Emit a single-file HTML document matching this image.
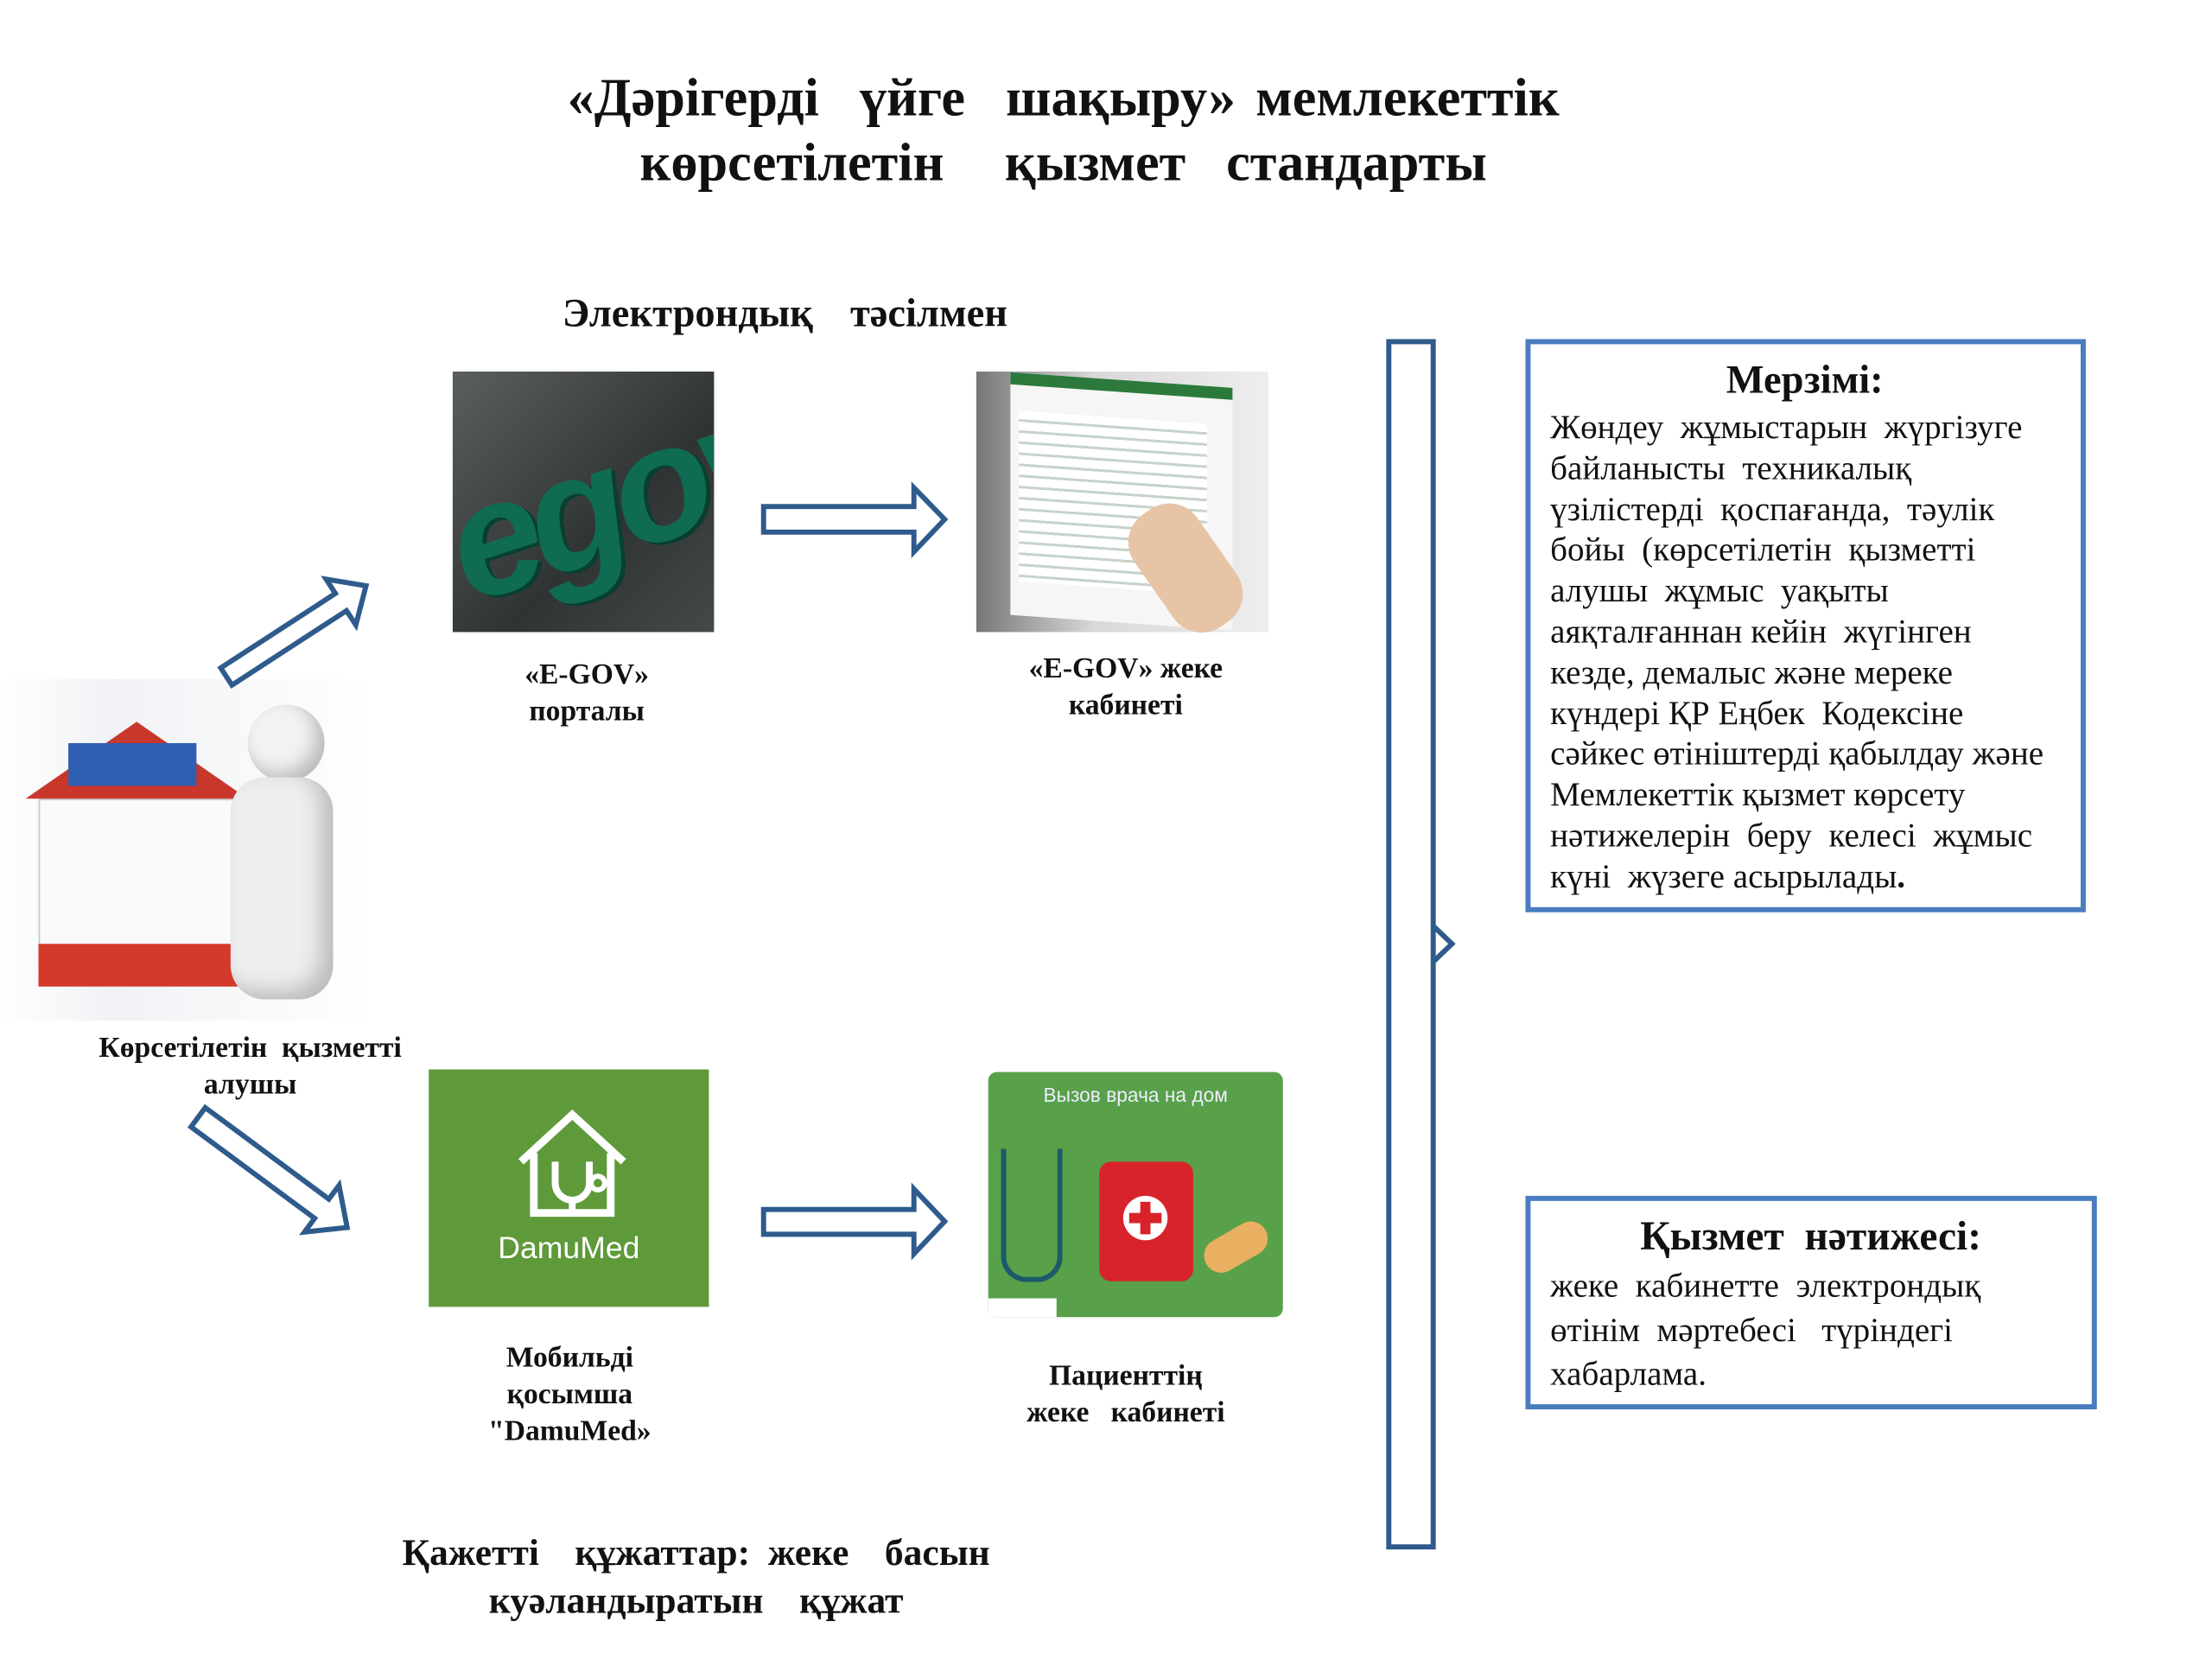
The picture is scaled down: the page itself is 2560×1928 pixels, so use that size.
<!DOCTYPE html>
<html><head><meta charset="utf-8"><style>
body{margin:0;width:2560px;height:1920px;background:#fff;position:relative;overflow:hidden;font-family:"Liberation Serif",serif;color:#111}
#w{position:absolute;left:0;top:0;width:2600px;height:1950px;transform:scale(0.9885);transform-origin:0 0}
.a{position:absolute}
.c{position:absolute;text-align:center;font-weight:bold;white-space:nowrap;transform:translateX(-50%)}
</style></head><body><div id="w">
<div class="c" style="left:1245px;top:76px;font-size:63px;line-height:76px;word-spacing:8px">«Дәрігерді &nbsp;үйге &nbsp;шақыру» мемлекеттік<br>көрсетілетін &nbsp; қызмет &nbsp;стандарты</div>
<div class="c" style="left:919px;top:340px;font-size:47px;word-spacing:10px">Электрондық &nbsp;тәсілмен</div>

<div class="a" style="left:530px;top:435px;width:306px;height:305px;background:linear-gradient(135deg,#5a5f5e,#2f3433 60%,#444a49);overflow:hidden">
<div class="a" style="left:-10px;top:40px;font:italic bold 190px 'Liberation Sans',sans-serif;color:#0f6b52;transform:rotate(-18deg);letter-spacing:-12px;text-shadow:4px 4px 0 #083f30">egov</div></div>
<div class="a" style="left:1143px;top:435px;width:342px;height:305px;background:linear-gradient(90deg,#777,#d8d8d8 40%,#eee)">
<div class="a" style="left:40px;top:10px;width:260px;height:270px;background:#f6f6f6;transform:skewY(4deg);border-top:14px solid #2b7a3c">
<div class="a" style="left:10px;top:30px;width:220px;height:200px;background:repeating-linear-gradient(#fff 0 10px,#c6d3c9 10px 13px)"></div></div>
<div class="a" style="left:200px;top:150px;width:90px;height:160px;background:#e8c4a6;border-radius:40px;transform:rotate(-35deg)"></div></div>

<div class="c" style="left:687px;top:768px;font-size:34px;line-height:43px">«E-GOV»<br>порталы</div>
<div class="c" style="left:1318px;top:761px;font-size:34px;line-height:43px">«E-GOV» жеке<br>кабинеті</div>

<div class="a" style="left:0;top:795px;width:439px;height:400px;background:linear-gradient(90deg,#fff,#f0f2f5 30%,#fff)"></div>
<div class="a" style="left:45px;top:935px;width:230px;height:170px;background:#fafafa;border:2px solid #ccc"></div>
<div class="a" style="left:45px;top:1105px;width:250px;height:50px;background:#d33a2c"></div>
<div class="a" style="left:30px;top:935px;width:0;height:0;border-left:130px solid transparent;border-right:130px solid transparent;border-bottom:90px solid #c8372b;transform:translateY(-90px)"></div>
<div class="a" style="left:80px;top:870px;width:150px;height:50px;background:#2f5fb0"></div>
<div class="a" style="left:290px;top:825px;width:90px;height:90px;border-radius:50%;background:#f2f2f2;box-shadow:inset -10px -10px 20px #bbb"></div>
<div class="a" style="left:270px;top:910px;width:120px;height:260px;border-radius:40px;background:#eee;box-shadow:inset -14px -10px 24px #bbb"></div>
<div class="c" style="left:293px;top:1205px;font-size:34px;line-height:43px">Көрсетілетін &nbsp;қызметті<br>алушы</div>

<div class="a" style="left:502px;top:1252px;width:328px;height:278px;background:#5f9a3a"></div>
<svg class="a" style="left:590px;top:1290px" width="160" height="160" viewBox="0 0 160 160"><path d="M20 70 L80 15 L140 70 M35 60 V130 H125 V60" fill="none" stroke="#fff" stroke-width="9"/><path d="M60 70 V95 a20 20 0 0 0 40 0 V70 M80 115 v15" fill="none" stroke="#fff" stroke-width="8"/><circle cx="110" cy="95" r="8" fill="none" stroke="#fff" stroke-width="6"/></svg>
<div class="a" style="left:502px;top:1440px;width:328px;text-align:center;font:36px 'Liberation Sans',sans-serif;color:#fff">DamuMed</div>

<div class="a" style="left:1157px;top:1255px;width:345px;height:287px;background:#58a04a;border-radius:10px;overflow:hidden">
<div class="a" style="left:0;top:14px;width:345px;text-align:center;font:23px 'Liberation Sans',sans-serif;color:#eef">Вызов врача на дом</div>
<div class="a" style="left:130px;top:105px;width:110px;height:140px;background:#d8232a;border-radius:14px"></div>
<div class="a" style="left:158px;top:145px;width:52px;height:52px;border-radius:50%;background:#fff"></div>
<div class="a" style="left:178px;top:152px;width:12px;height:38px;background:#d8232a"></div>
<div class="a" style="left:165px;top:165px;width:38px;height:12px;background:#d8232a"></div>
<div class="a" style="left:15px;top:90px;width:60px;height:150px;border:6px solid #1b5a6a;border-top:none;border-radius:0 0 30px 30px"></div>
<div class="a" style="left:250px;top:185px;width:80px;height:40px;background:#e8b060;border-radius:20px;transform:rotate(-30deg)"></div>
<div class="a" style="left:0;top:265px;width:80px;height:30px;background:#fff"></div></div>

<div class="c" style="left:667px;top:1568px;font-size:34px;line-height:43px">Мобильді<br>қосымша<br>"DamuMed»</div>
<div class="c" style="left:1318px;top:1589px;font-size:34px;line-height:43px">Пациенттің<br>жеке &nbsp; кабинеті</div>
<div class="c" style="left:815px;top:1790px;font-size:44px;line-height:56px;word-spacing:10px">Қажетті &nbsp;құжаттар: жеке &nbsp;басын<br>куәландыратын &nbsp;құжат</div>

<svg class="a" style="left:0;top:0" width="2600" height="1950">
<g fill="#fff" stroke="#2f5b8c" stroke-width="6" stroke-linejoin="miter">
<path d="M894,593 L1070,593 L1070,571 L1106,608 L1070,646 L1070,623 L894,623 Z"/>
<path d="M894,1416 L1070,1416 L1070,1392 L1106,1430 L1070,1468 L1070,1445 L894,1445 Z"/>
<path transform="translate(265,792) rotate(-33)" d="M0,-12 L160,-12 L160,-32 L195,0 L160,32 L160,12 L0,12 Z"/>
<path transform="translate(232,1308) rotate(36.5)" d="M0,-14 L180,-14 L180,-34 L217,0 L180,34 L180,14 L0,14 Z"/>
</g>
<rect x="1626" y="400" width="52" height="1411" fill="none" stroke="#2f5b8c" stroke-width="6"/>
<path d="M1679,1085 L1700,1105 L1679,1125" fill="none" stroke="#2f5b8c" stroke-width="6"/>
<rect x="1789" y="400" width="650" height="665" fill="none" stroke="#4a7dbf" stroke-width="6"/>
<rect x="1789" y="1403" width="663" height="244" fill="none" stroke="#4a7dbf" stroke-width="6"/>
</svg>

<div class="c" style="left:2113px;top:418px;font-size:47px">Мерзімі:</div>
<div class="a" style="left:1815px;top:477px;font-size:39.5px;line-height:47.8px;white-space:nowrap">Жөндеу &nbsp;жұмыстарын &nbsp;жүргізуге<br>байланысты &nbsp;техникалық<br>үзілістерді &nbsp;қоспағанда, &nbsp;тәулік<br>бойы &nbsp;(көрсетілетін &nbsp;қызметті<br>алушы &nbsp;жұмыс &nbsp;уақыты<br>аяқталғаннан кейін &nbsp;жүгінген<br>кезде, демалыс және мереке<br>күндері ҚР Еңбек &nbsp;Кодексіне<br>сәйкес өтініштерді қабылдау және<br>Мемлекеттік қызмет көрсету<br>нәтижелерін &nbsp;беру &nbsp;келесі &nbsp;жұмыс<br>күні &nbsp;жүзеге асырылады<b>.</b></div>
<div class="c" style="left:2120px;top:1420px;font-size:48px">Қызмет &nbsp;нәтижесі:</div>
<div class="a" style="left:1815px;top:1480px;font-size:39.5px;line-height:51.5px;white-space:nowrap">жеке &nbsp;кабинетте &nbsp;электрондық<br>өтінім &nbsp;мәртебесі &nbsp; түріндегі<br>хабарлама.</div>
</div></body></html>
